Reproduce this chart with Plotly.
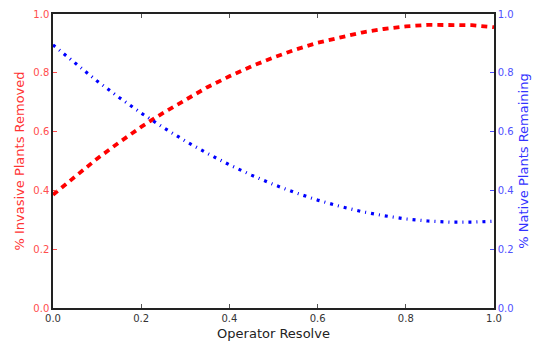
import plotly.graph_objects as go

resolve = [0.0, 0.05, 0.1, 0.15, 0.2, 0.25, 0.3, 0.35, 0.4, 0.45, 0.5,
           0.55, 0.6, 0.65, 0.7, 0.75, 0.8, 0.85, 0.9, 0.95, 1.0]
invasive_removed = [0.385, 0.448, 0.508, 0.563, 0.616, 0.664, 0.709, 0.751, 0.788, 0.822, 0.852,
                    0.879, 0.902, 0.921, 0.937, 0.949, 0.958, 0.963, 0.964, 0.962, 0.955]
native_remaining = [0.895, 0.832, 0.772, 0.716, 0.663, 0.614, 0.568, 0.526, 0.487, 0.452, 0.420,
                    0.392, 0.367, 0.346, 0.328, 0.314, 0.303, 0.296, 0.292, 0.292, 0.295]
tick_vals = [0.0, 0.2, 0.4, 0.6, 0.8, 1.0]
tick_text = ["0.0", "0.2", "0.4", "0.6", "0.8", "1.0"]

RED = "#ff0000"
BLUE = "#0000ff"
RED_L = "#ff4d4d"
BLUE_L = "#5050ff"
FONT = "DejaVu Sans"

fig = go.Figure()
fig.add_trace(go.Scatter(x=resolve, y=invasive_removed, mode="lines",
                         line=dict(color=RED, width=3.8, dash="6px,5px"), yaxis="y"))
fig.add_trace(go.Scatter(x=resolve, y=native_remaining, mode="lines",
                         line=dict(color=BLUE, width=3.2, dash="3px,5px,1px,5px"), yaxis="y2"))

fig.update_layout(
    width=540, height=344,
    margin=dict(l=53, r=46, t=14, b=36, autoexpand=False),
    paper_bgcolor="white", plot_bgcolor="white",
    showlegend=False,
    font=dict(family=FONT, size=10, color="#333333"),
    xaxis=dict(range=[0, 1], tickvals=tick_vals, ticktext=tick_text, automargin=False,
               ticks="inside", ticklen=4, tickcolor="#555555",
               showline=True, linecolor="#222222", linewidth=1.5, mirror="ticks",
               showgrid=False, zeroline=False,
               tickfont=dict(family=FONT, size=10, color="#333333"),
               title=dict(text="Operator Resolve", font=dict(family=FONT, size=13, color="#222222"),
                          standoff=6)),
    yaxis=dict(range=[0, 1], tickvals=tick_vals, ticktext=tick_text, automargin=False,
               ticks="inside", ticklen=4, tickcolor=RED_L,
               showline=True, linecolor="#222222", linewidth=1.5,
               showgrid=False, zeroline=False,
               tickfont=dict(family=FONT, size=10, color=RED_L),
               title=dict(text="% Invasive Plants Removed", font=dict(family=FONT, size=13, color="#ff3333"),
                          standoff=6)),
    yaxis2=dict(range=[0, 1], tickvals=tick_vals, ticktext=tick_text, automargin=False,
                overlaying="y", side="right",
                ticks="inside", ticklen=4, tickcolor=BLUE_L,
                showline=True, linecolor="#222222", linewidth=1.5,
                showgrid=False, zeroline=False,
                tickfont=dict(family=FONT, size=10, color=BLUE_L),
                title=dict(text="% Native Plants Remaining", font=dict(family=FONT, size=13, color="#3333ff"),
                           standoff=6)),
)

fig.write_html("out.html", config={"displayModeBar": False},
               post_script="document.body.style.margin='0';")
